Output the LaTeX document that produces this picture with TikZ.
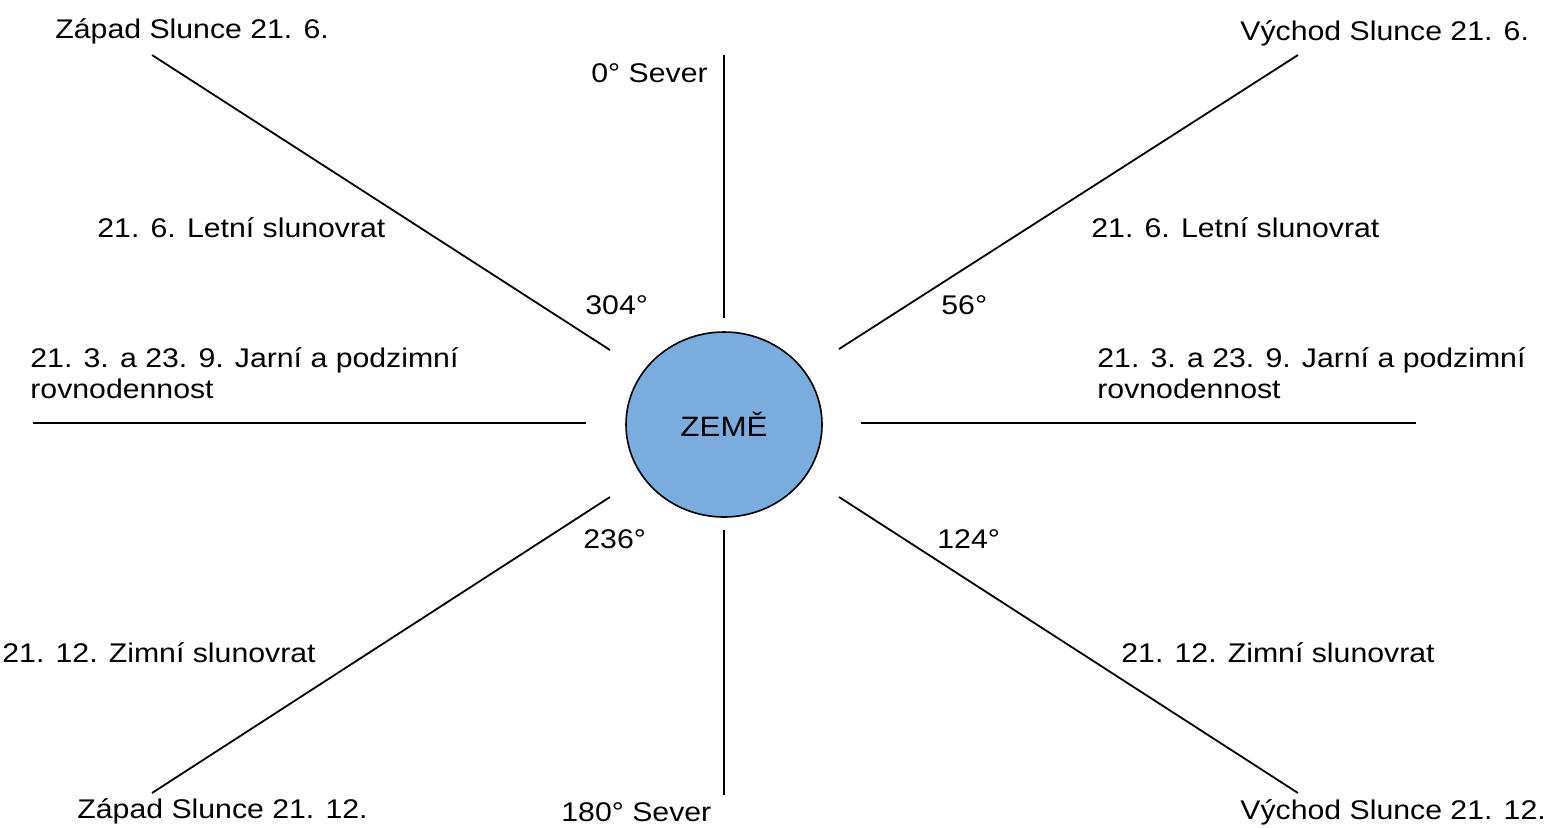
\documentclass[tikz,border=0pt]{standalone}
\usepackage{fontspec}
\usetikzlibrary{shapes.geometric}
\setmainfont{Liberation Sans}[FakeStretch=1.12]
\definecolor{earth}{RGB}{122,172,222}
\begin{document}
\begin{tikzpicture}[x=0.5pt,y=-0.5pt,
  lbl/.style={anchor=west,inner sep=0pt,font=\fontsize{13.5}{15}\selectfont},
  ray/.style={draw=black,line width=0.9pt}]
\useasboundingbox (0,0) rectangle (1552,827);
% Earth
\node[draw=black,line width=0.8pt,fill=earth,ellipse,minimum width=98pt,minimum height=92.5pt,inner sep=0pt,
  font=\fontsize{14}{15}\selectfont] (earth) at (724,424.5) {ZEMĚ};
% ray end points
\coordinate (nA) at (724,55);   \coordinate (nB) at (724,318);
\coordinate (sA) at (724,530);  \coordinate (sB) at (724,795);
\coordinate (wA) at (33,423);   \coordinate (wB) at (586,423);
\coordinate (eA) at (861,423);  \coordinate (eB) at (1416,423);
\coordinate (nwA) at (152,55);  \coordinate (nwB) at (610,350);
\coordinate (neA) at (1298,55); \coordinate (neB) at (839,349);
\coordinate (swA) at (610,497); \coordinate (swB) at (152,793);
\coordinate (seA) at (839,497); \coordinate (seB) at (1298,793);
\draw[ray] (nA) -- (nB);
\draw[ray] (sA) -- (sB);
\draw[ray] (wA) -- (wB);
\draw[ray] (eA) -- (eB);
\draw[ray] (nwA) -- (nwB);
\draw[ray] (neA) -- (neB);
\draw[ray] (swA) -- (swB);
\draw[ray] (seA) -- (seB);
% labels
\node[lbl] (t1) at (55,31) {Západ Slunce 21. 6.};
\node[lbl] (t2) at (591,73) {0° Sever};
\node[lbl] (t3) at (1240,33) {Východ Slunce 21. 6.};
\node[lbl] (t4) at (97,228) {21. 6. Letní slunovrat};
\node[lbl] (t5) at (1091,228) {21. 6. Letní slunovrat};
\node[lbl] (t6) at (585,305) {304°};
\node[lbl] (t7) at (941,305) {56°};
\node[lbl] (t8) at (30,360) {21. 3. a 23. 9. Jarní a podzimní};
\node[lbl] (t9) at (30,389) {rovnodennost};
\node[lbl] (t10) at (1097,360) {21. 3. a 23. 9. Jarní a podzimní};
\node[lbl] (t11) at (1097,389) {rovnodennost};
\node[lbl] (t12) at (583,539) {236°};
\node[lbl] (t13) at (937,539) {124°};
\node[lbl,anchor=east] (t14) at (316,653) {21. 12. Zimní slunovrat};
\node[lbl] (t15) at (1121,653) {21. 12. Zimní slunovrat};
\node[lbl] (t16) at (77,811) {Západ Slunce 21. 12.};
\node[lbl] (t17) at (561,812) {180° Sever};
\node[lbl] (t18) at (1240,812) {Východ Slunce 21. 12.};
\end{tikzpicture}
\end{document}
